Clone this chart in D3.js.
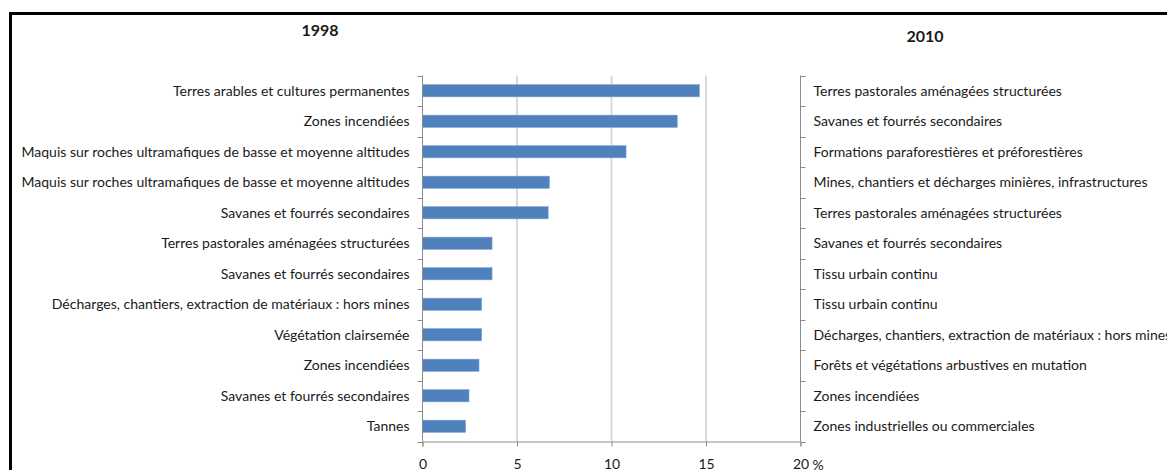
<!DOCTYPE html>
<html>
<head>
<meta charset="utf-8">
<script src="https://cdn.jsdelivr.net/npm/d3@7"></script>
<style>
  body { margin: 0; background: #fff; }
  text { font-family: Lato, "Liberation Sans", sans-serif; fill: #1a1a1a; }
</style>
</head>
<body>
<svg id="chart" width="1167" height="470"></svg>
<script>
// libellés 1998 (axe gauche)
var labels1998 = [
  "Terres arables et cultures permanentes",
  "Zones incendiées",
  "Maquis sur roches ultramafiques de basse et moyenne altitudes",
  "Maquis sur roches ultramafiques de basse et moyenne altitudes",
  "Savanes et fourrés secondaires",
  "Terres pastorales aménagées structurées",
  "Savanes et fourrés secondaires",
  "Décharges, chantiers, extraction de matériaux : hors mines",
  "Végétation clairsemée",
  "Zones incendiées",
  "Savanes et fourrés secondaires",
  "Tannes"
];
// libellés 2010 (axe droit)
var labels2010 = [
  "Terres pastorales aménagées structurées",
  "Savanes et fourrés secondaires",
  "Formations paraforestières et préforestières",
  "Mines, chantiers et décharges minières, infrastructures",
  "Terres pastorales aménagées structurées",
  "Savanes et fourrés secondaires",
  "Tissu urbain continu",
  "Tissu urbain continu",
  "Décharges, chantiers, extraction de matériaux : hors mines",
  "Forêts et végétations arbustives en mutation",
  "Zones incendiées",
  "Zones industrielles ou commerciales"
];
var values = [14.65, 13.48, 10.77, 6.71, 6.65, 3.68, 3.68, 3.13, 3.13, 2.99, 2.46, 2.28];
var xTicks = [0, 5, 10, 15, 20];

var svg = d3.select("#chart");

// cadre
svg.append("rect")
  .attr("x", 10.5).attr("y", 13.5)
  .attr("width", 1200).attr("height", 500)
  .attr("fill", "none").attr("stroke", "#000").attr("stroke-width", 3);

var pLeft = 422.5, pRight = 800.5, pTop = 75.5, pBottom = 441.5;

var x = d3.scaleLinear().domain([0, 20]).range([pLeft, pRight]);
var y = d3.scaleBand().domain(d3.range(values.length)).range([pTop, pBottom]).paddingInner(0.6).paddingOuter(0.3);
var yEdge = d3.scaleLinear().domain([0, values.length]).range([pTop, pBottom]);

// grille verticale
svg.append("g").selectAll("line")
  .data([5, 10, 15])
  .enter().append("line")
  .attr("x1", function (d) { return x(d); })
  .attr("x2", function (d) { return x(d); })
  .attr("y1", pTop).attr("y2", pBottom)
  .attr("stroke", "#d9d9d9").attr("stroke-width", 2);

// barres
svg.append("g").selectAll("rect")
  .data(values)
  .enter().append("rect")
  .attr("x", x(0))
  .attr("y", function (d, i) { return y(i); })
  .attr("width", function (d) { return x(d) - x(0); })
  .attr("height", y.bandwidth())
  .attr("fill", "#4f81bd")
  .attr("stroke", "#7fa3d0").attr("stroke-width", 0.6);

var axisColor = "#8c8c8c";
var edges = d3.range(values.length + 1);

// axe gauche
var gl = svg.append("g");
gl.append("line").attr("x1", pLeft).attr("x2", pLeft).attr("y1", pTop).attr("y2", pBottom)
  .attr("stroke", axisColor);
gl.selectAll(".tk").data(edges).enter().append("line")
  .attr("x1", pLeft - 5).attr("x2", pLeft)
  .attr("y1", function (d) { return Math.round(yEdge(d)) + 0.5; })
  .attr("y2", function (d) { return Math.round(yEdge(d)) + 0.5; })
  .attr("stroke", axisColor);
gl.selectAll("text").data(labels1998).enter().append("text")
  .attr("x", pLeft - 13)
  .attr("y", function (d, i) { return y(i) + y.bandwidth() / 2; })
  .attr("dy", "0.35em")
  .attr("text-anchor", "end")
  .style("font-size", "14px")
  .text(function (d) { return d; });

// axe droit
var gr = svg.append("g");
gr.append("line").attr("x1", pRight).attr("x2", pRight).attr("y1", pTop).attr("y2", pBottom)
  .attr("stroke", axisColor);
gr.selectAll(".tk").data(edges).enter().append("line")
  .attr("x1", pRight).attr("x2", pRight + 5)
  .attr("y1", function (d) { return Math.round(yEdge(d)) + 0.5; })
  .attr("y2", function (d) { return Math.round(yEdge(d)) + 0.5; })
  .attr("stroke", axisColor);
gr.selectAll("text").data(labels2010).enter().append("text")
  .attr("x", pRight + 13)
  .attr("y", function (d, i) { return y(i) + y.bandwidth() / 2; })
  .attr("dy", "0.35em")
  .style("font-size", "14px")
  .text(function (d) { return d; });

// axe bas
var gb = svg.append("g").attr("transform", "translate(0," + pBottom + ")");
gb.call(d3.axisBottom(x).tickValues(xTicks).tickSize(5).tickPadding(13));
gb.select(".domain").attr("stroke", axisColor);
gb.selectAll(".tick line").attr("stroke", axisColor);
gb.selectAll(".tick text").style("font-size", "14px").attr("fill", "#1a1a1a")
  .style("font-family", "Lato, sans-serif");
svg.append("text")
  .attr("x", pRight + 12).attr("y", pBottom + 28)
  .style("font-size", "14px")
  .text("%");

// titres
svg.append("text").attr("x", 320).attr("y", 36).attr("text-anchor", "middle")
  .style("font-size", "16px").style("font-weight", "bold").text("1998");
svg.append("text").attr("x", 925).attr("y", 42).attr("text-anchor", "middle")
  .style("font-size", "16px").style("font-weight", "bold").text("2010");
</script>
</body>
</html>
